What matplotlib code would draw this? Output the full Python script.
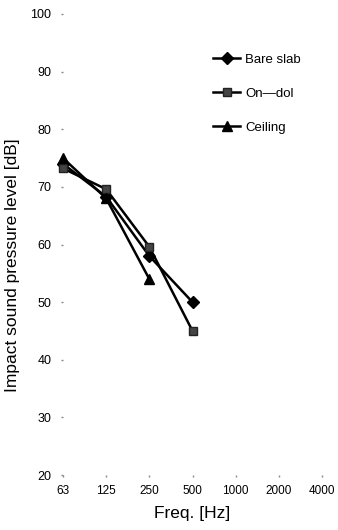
import matplotlib
matplotlib.use("Agg")
import matplotlib.pyplot as plt

plt.rcParams['font.family'] = ['Liberation Sans', 'DejaVu Sans']

freqs = ['63', '125', '250', '500', '1000', '2000', '4000']
bare_slab = [74.0, 68.3, 58.0, 50.0]
on_dol = [73.2, 69.6, 59.6, 45.0]
ceiling = [75.0, 68.0, 54.0]
yticks = [20, 30, 40, 50, 60, 70, 80, 90, 100]

fig = plt.figure(figsize=(3.38, 5.30), dpi=100)
ax = fig.add_axes([63 / 338, 55 / 530, 259 / 338, 461 / 530])

x = list(range(len(freqs)))
ax.plot(x[:len(bare_slab)], bare_slab, color='black', lw=1.8, marker='D',
        ms=6, label='Bare slab', clip_on=False)
ax.plot(x[:len(on_dol)], on_dol, color='black', lw=1.8, marker='s',
        ms=6, mfc='#444444', mec='#222222', label='On\u2014dol', clip_on=False)
ax.plot(x[:len(ceiling)], ceiling, color='black', lw=1.8, marker='^',
        ms=7, label='Ceiling', clip_on=False)

ax.set_xlim(0, 6)
ax.set_ylim(20, 100)
ax.set_xticks(x)
ax.set_xticklabels(freqs, fontsize=8.5)
ax.set_yticks(yticks)
ax.set_yticklabels([str(v) for v in yticks], fontsize=9)
for s in ax.spines.values():
    s.set_visible(False)
ax.tick_params(axis='both', length=1.5, width=1, color='#888888', direction='out')
ax.tick_params(axis='x', pad=6)
ax.tick_params(axis='y', pad=7)
ax.patch.set_alpha(0)

ax.set_ylabel('Impact sound pressure level [dB]', fontsize=12.5)
ax.yaxis.set_label_coords(-0.165, 0.455)
ax.set_xlabel('Freq. [Hz]', fontsize=12.5, labelpad=6)

leg = ax.legend(loc='upper left', bbox_to_anchor=(0.56, 0.925), frameon=False,
                fontsize=9.5, handlelength=2.0, handletextpad=0.4,
                labelspacing=1.65, borderaxespad=0)

fig.savefig('out.png', dpi=100)
